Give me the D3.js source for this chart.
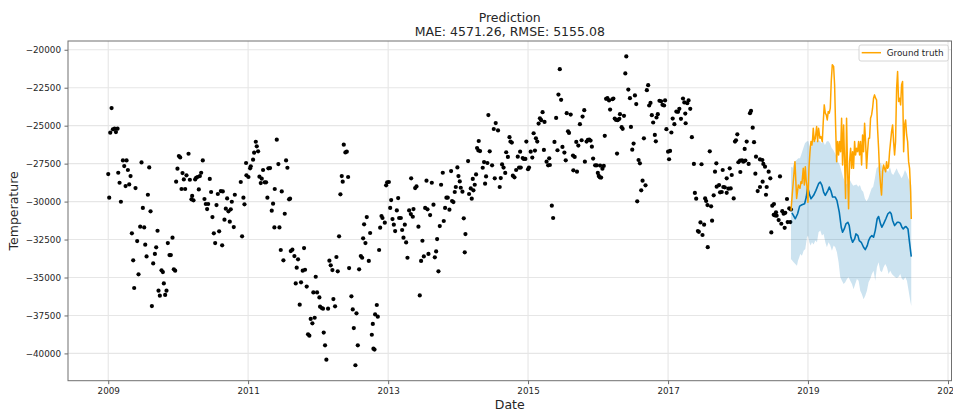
<!DOCTYPE html>
<html>
<head>
<meta charset="utf-8">
<script src="https://cdn.jsdelivr.net/npm/d3@7"></script>
<style>
  body { margin: 0; background: #fff; }
  text { font-family: "DejaVu Sans", sans-serif; }
</style>
</head>
<body>
<svg id="chart" width="953" height="417"></svg>
<script>
// Observed weekly readings: [decimal year, temperature]
const observed = [
[2009.048,-23840],[2009.029,-25460],[2009.067,-25240],[2009.090,-25200],[2009.110,-25420],[2009.133,-25200],[2009.000,-28190],[2009.014,-29740],[2009.210,-27290],[2009.262,-27290],[2009.229,-27660],[2009.143,-28100],[2009.281,-27920],[2009.319,-28320],[2009.162,-28760],[2009.248,-28980],[2009.300,-28870],[2009.390,-29110],[2009.181,-30010],[2009.476,-27420],[2009.586,-27750],[2009.567,-29550],[2009.495,-30420],[2009.605,-30640],[2009.457,-31650],[2009.514,-31700],[2009.338,-32090],[2009.705,-31920],[2009.414,-32600],[2009.529,-32840],[2009.686,-33010],[2009.852,-32730],[2009.919,-32380],[2009.548,-33610],[2009.667,-33450],[2009.876,-33520],[2009.895,-33520],[2009.357,-33870],[2009.643,-34070],[2009.762,-34530],[2009.781,-34640],[2009.938,-34460],[2009.957,-34550],[2009.433,-34790],[2009.795,-35390],[2009.371,-35690],[2009.719,-35870],[2009.833,-35870],[2009.738,-36200],[2009.814,-36150],[2009.624,-36880],
[2010.010,-27000],[2010.029,-27090],[2010.148,-26850],[2010.352,-27290],[2009.990,-27830],[2010.062,-28120],[2010.119,-28270],[2010.081,-28540],[2009.971,-28690],[2010.167,-28560],[2010.243,-28540],[2010.257,-28430],[2010.276,-28380],[2010.310,-28320],[2010.329,-28100],[2010.048,-29170],[2010.100,-29170],[2010.295,-29200],[2010.452,-28510],[2010.200,-29630],[2010.190,-29850],[2010.219,-29920],[2010.471,-29370],[2010.376,-29830],[2010.395,-30160],[2010.429,-30160],[2010.414,-30490],[2010.490,-31020],[2010.567,-29500],[2010.548,-30230],[2010.610,-29310],[2010.638,-29330],[2010.700,-29790],[2010.767,-30010],[2010.681,-30470],[2010.719,-30640],[2010.752,-30510],[2010.662,-31190],[2010.738,-31320],[2010.795,-31680],[2010.510,-32090],[2010.586,-31960],[2010.529,-32730],[2010.629,-32880],[2010.914,-32290],[2010.810,-29550],[2010.895,-28710],[2010.948,-30180],[2010.933,-29740],[2010.976,-28270],[2011.005,-28380],[2011.029,-27810],[2011.038,-27680],[2010.971,-27460],[2011.071,-27240],[2011.086,-26780],[2011.110,-26060],[2011.124,-26360],[2011.143,-26690],[2011.162,-28360],[2011.181,-28780],[2011.195,-28490],[2011.238,-28730],[2011.257,-28730],[2011.214,-27920],[2011.290,-27810],[2011.314,-27790],[2011.276,-29740],[2011.338,-30600],[2011.357,-30140],[2011.381,-29170],[2011.433,-27530],[2011.410,-25920],[2011.481,-29330],[2011.376,-31700],[2011.448,-31700],[2011.524,-30800],[2011.467,-33190],[2011.505,-33870],[2011.543,-27290],[2011.562,-27770],
[2011.586,-29850],[2011.600,-29810],[2011.610,-33260],[2011.633,-33170],[2011.662,-33590],[2011.714,-33800],[2011.800,-33060],[2011.695,-34350],[2011.781,-34550],[2011.814,-34490],[2011.681,-35390],[2011.757,-35320],[2011.838,-35600],[2011.967,-34950],[2011.933,-35980],[2011.986,-35980],[2012.019,-36310],[2011.738,-36790],[2012.029,-36920],[2012.052,-37010],[2012.071,-37050],[2012.143,-37050],[2012.219,-36420],[2012.243,-36900],[2011.895,-37730],[2011.919,-38020],[2011.952,-37650],[2011.857,-38740],[2011.876,-38830],[2012.081,-38630],[2012.100,-39470],[2012.119,-40410],[2012.162,-33890],[2012.181,-34200],[2012.205,-34510],[2012.262,-33650],[2012.281,-34590],[2012.300,-32290],[2012.319,-29520],[2012.338,-28320],[2012.352,-28690],[2012.429,-28380],[2012.367,-26250],[2012.390,-26760],[2012.410,-26710],[2012.443,-34380],[2012.476,-36240],[2012.495,-37100],[2012.548,-37360],[2012.510,-38330],[2012.533,-40780],[2012.567,-39470],[2012.586,-34460],[2012.610,-33590],[2012.629,-33700],[2012.643,-32420],[2012.657,-31500],[2012.676,-32730],[2012.695,-31020],[2012.724,-33910],[2012.743,-32070],[2012.767,-38770],[2012.790,-39690],[2012.805,-39750],[2012.781,-38060],[2012.814,-37430],[2012.838,-36810],[2012.852,-37580],[2012.871,-33190],[2012.886,-31720],[2012.905,-30950],[2012.919,-31080],[2012.952,-31390],[2012.971,-28930],[2012.986,-28730],[2013.010,-28710],[2013.043,-29900],[2013.029,-30420],[2013.062,-31150],[2013.081,-31520],[2013.100,-31940],[2013.124,-30580],[2013.143,-29770],[2013.157,-31080],[2013.181,-31080],[2013.200,-31870],[2013.219,-32380],[2013.238,-31520],[2013.257,-32690],[2013.276,-33700],[2013.300,-30580],[2013.324,-30820],[2013.352,-31000],[2013.329,-28470],[2013.362,-30490],[2013.386,-29110],[2013.405,-29000],[2013.433,-31650],[2013.452,-36180],[2013.471,-33910],[2013.490,-32580],[2013.510,-33610],[2013.576,-33450],[2013.529,-30420],[2013.562,-30510],[2013.548,-28620],[2013.600,-30890],[2013.624,-28760],[2013.648,-30200],[2013.667,-33670],[2013.686,-33280],[2013.700,-32470],[2013.719,-34590],[2013.738,-31610],[2013.757,-28890],[2013.781,-28100],[2013.795,-31280],[2013.814,-30420],[2013.833,-29740],[2013.852,-29740],[2013.876,-30530],[2013.900,-27990],[2013.914,-29960],[2013.933,-30030],[2013.952,-29370],[2013.967,-29040],[2013.990,-27750],[2014.005,-28320],[2014.024,-28670],[2014.038,-29090],[2014.062,-29350],[2014.081,-31100],[2014.105,-32140],[2014.095,-33340],[2014.143,-27330],[2014.157,-29500],[2014.181,-29130],[2014.210,-28510],[2014.195,-29810],[2014.219,-29260],[2014.238,-28890],[2014.257,-28210],[2014.271,-26470],[2014.295,-26010],[2014.290,-26630],[2014.314,-26670],[2014.352,-27770],[2014.371,-27400],[2014.386,-28820],[2014.400,-28340],[2014.419,-27460],[2014.433,-24300],[2014.452,-26690],[2014.486,-27610],[2014.510,-25220],[2014.538,-24830],[2014.571,-25310],[2014.524,-28470],[2014.595,-29040],[2014.610,-28450],[2014.629,-27550],
[2014.650,-27760],[2014.674,-28110],[2014.688,-26750],[2014.712,-27060],[2014.735,-25760],[2014.749,-26050],[2014.768,-26110],[2014.783,-28290],[2014.806,-28400],[2014.830,-27920],[2014.853,-27040],[2014.887,-26710],[2014.872,-27760],[2014.896,-27760],[2014.924,-27130],[2014.939,-27190],[2014.962,-27190],[2014.976,-26050],[2015.000,-27870],[2015.014,-27760],[2015.038,-26710],[2015.061,-27100],[2015.080,-25500],[2015.099,-26640],[2015.113,-25830],[2015.132,-26050],[2015.151,-24860],[2015.170,-24510],[2015.189,-24640],[2015.208,-24110],[2015.236,-24750],[2015.227,-26600],[2015.265,-27370],[2015.303,-27150],[2015.288,-27610],[2015.312,-27590],[2015.340,-30270],[2015.359,-31080],[2015.378,-26070],[2015.402,-24490],[2015.421,-26620],[2015.435,-22950],[2015.473,-23300],[2015.454,-21280],[2015.492,-26400],[2015.520,-26770],[2015.539,-27280],[2015.553,-24180],[2015.610,-24270],[2015.572,-25370],[2015.586,-25480],[2015.643,-26970],[2015.667,-27060],[2015.648,-27940],[2015.700,-28030],[2015.690,-26070],[2015.719,-26310],[2015.742,-24900],[2015.766,-25960],[2015.780,-24400],[2015.804,-23980],[2015.813,-27370],[2015.837,-26050],[2015.856,-25940],[2015.875,-25920],[2015.894,-25980],[2015.913,-26380],[2015.931,-27170],[2015.960,-27610],[2015.983,-27610],[2015.998,-28110],[2016.012,-28310],[2016.026,-28400],[2016.045,-28420],[2016.031,-27630],[2016.064,-27830],[2016.083,-27650],[2016.097,-25670],[2016.116,-23230],[2016.135,-23190],[2016.158,-23340],[2016.173,-23940],[2016.206,-23260],[2016.220,-23210],[2016.239,-24530],[2016.258,-24620],[2016.281,-24640],[2016.305,-24550],[2016.272,-26840],[2016.314,-24240],[2016.371,-24350],[2016.338,-25100],[2016.352,-25210],[2016.390,-21560],[2016.404,-20440],[2016.433,-22620],[2016.456,-23190],[2016.470,-25080],[2016.489,-26580],[2016.508,-26180],[2016.527,-23010],[2016.546,-23580],[2016.579,-27260],[2016.598,-27480],[2016.617,-29260],[2016.636,-28620],[2016.560,-29980],[2016.678,-28930],[2016.655,-25830],[2016.697,-22660],[2016.716,-22330],[2016.730,-23670],[2016.749,-23500],[2016.768,-24310],[2016.787,-24790],[2016.811,-25610],[2016.825,-26030],[2016.835,-24460],[2016.853,-24240],[2016.877,-23360],[2016.901,-23390],[2016.920,-23630],[2016.943,-23670],[2016.957,-23340],[2016.976,-25230],[2017.000,-26710],[2017.028,-26660],[2017.014,-27210],[2017.047,-25450],[2017.066,-24530],[2017.090,-24900],[2017.118,-24070],[2017.142,-24090],[2017.161,-23890],[2017.184,-24550],[2017.213,-23210],[2017.232,-23470],[2017.251,-24840],[2017.246,-24200],[2017.274,-23520],[2017.293,-23340],[2017.317,-23890],[2017.340,-25760],[2017.369,-27520],[2017.383,-29430],[2017.402,-29810],[2017.426,-31940],[2017.440,-31990],[2017.463,-31370],[2017.492,-32200],[2017.515,-31520],[2017.478,-27540],[2017.530,-29790],[2017.544,-29960],[2017.563,-30230],[2017.567,-33000],[2017.596,-26690],[2017.615,-30310],[2017.629,-31260],[2017.652,-29590],[2017.671,-28030],[2017.690,-27480],[2017.695,-29020],
[2017.729,-28910],[2017.743,-29390],[2017.767,-29370],[2017.790,-29040],[2017.781,-27920],[2017.810,-29060],[2017.838,-29420],[2017.838,-28470],[2017.862,-29150],[2017.895,-29130],[2017.881,-27810],[2017.910,-28250],[2017.938,-29790],[2017.957,-26050],[2017.971,-25960],[2017.990,-25570],[2018.005,-27410],[2018.029,-27300],[2018.057,-27280],[2018.076,-27370],[2018.105,-27300],[2018.033,-28050],[2018.095,-26530],[2018.124,-26050],[2018.152,-27520],[2018.171,-24180],[2018.186,-24030],[2018.210,-25130],[2018.229,-26090],[2018.257,-27040],[2018.314,-27220],[2018.348,-27260],[2018.362,-27520],[2018.281,-29310],[2018.248,-28160],[2018.314,-29040],[2018.352,-28690],[2018.386,-27700],[2018.410,-29040],[2018.400,-29550],[2018.438,-28030],[2018.462,-28470],[2018.476,-32030],[2018.490,-30270],[2018.510,-30870],[2018.529,-30910],[2018.543,-30710],[2018.552,-30930],[2018.514,-30160],[2018.581,-31220],[2018.600,-28340],[2018.619,-31460],[2018.633,-30630],[2018.652,-30800],[2018.676,-30740],[2018.667,-31730],[2018.700,-29830],[2018.710,-31350],[2018.748,-31350],[2018.733,-30450],[2018.757,-30520]
];

// Forecast mean (yhat)
const forecastMean = [
[2018.771,-30740],[2018.819,-31130],[2018.852,-30800],[2018.881,-30300],[2018.914,-30210],[2018.952,-30140],[2018.976,-29700],[2018.995,-29040],[2019.019,-29480],[2019.043,-29810],[2019.081,-29590],[2019.114,-29260],[2019.152,-28820],[2019.176,-28710],[2019.200,-28930],[2019.224,-29370],[2019.248,-29590],[2019.286,-29260],[2019.305,-29040],[2019.329,-29300],[2019.352,-29700],[2019.390,-29700],[2019.414,-29920],[2019.448,-30690],[2019.476,-31690],[2019.495,-32020],[2019.519,-31800],[2019.543,-31470],[2019.571,-31360],[2019.590,-31580],[2019.614,-32350],[2019.638,-32680],[2019.667,-32460],[2019.686,-32130],[2019.714,-32240],[2019.733,-32570],[2019.762,-32680],[2019.795,-33010],[2019.819,-33160],[2019.848,-32900],[2019.867,-32570],[2019.890,-32350],[2019.914,-32240],[2019.938,-32350],[2019.962,-31910],[2019.990,-31130],[2020.010,-30980],[2020.038,-31470],[2020.057,-31690],[2020.081,-31470],[2020.114,-31130],[2020.143,-30800],[2020.171,-30690],[2020.190,-30800],[2020.210,-31240],[2020.238,-31580],[2020.257,-31470],[2020.276,-31360],[2020.295,-31360],[2020.319,-31420],[2020.343,-31690],[2020.362,-31800],[2020.381,-31690],[2020.400,-31640],[2020.429,-31800],[2020.448,-32570],[2020.476,-33630]
];

// Forecast uncertainty interval, upper edge (yhat_upper)
const forecastUpper = [
[2018.757,-27700],[2018.781,-27770],[2018.805,-27370],[2018.838,-27260],[2018.862,-27150],[2018.886,-27150],[2018.910,-26820],[2018.933,-26490],[2018.957,-26160],[2018.981,-26050],[2019.005,-26010],[2019.019,-26270],[2019.038,-26490],[2019.057,-26310],[2019.076,-26050],[2019.100,-25940],[2019.124,-26050],[2019.148,-25940],[2019.171,-26010],[2019.195,-26160],[2019.219,-26050],[2019.243,-26270],[2019.267,-26050],[2019.290,-26010],[2019.314,-26160],[2019.338,-26450],[2019.362,-26600],[2019.386,-26820],[2019.410,-27040],[2019.433,-27410],[2019.457,-27630],[2019.481,-28030],[2019.505,-28430],[2019.529,-28690],[2019.552,-28870],[2019.576,-28690],[2019.600,-28580],[2019.624,-28800],[2019.648,-28950],[2019.671,-28910],[2019.695,-28870],[2019.719,-29020],[2019.743,-28910],[2019.767,-29240],[2019.790,-29350],[2019.814,-29790],[2019.838,-29970],[2019.862,-29790],[2019.886,-29460],[2019.910,-29130],[2019.933,-29020],[2019.957,-28470],[2019.981,-27810],[2020.005,-27700],[2020.029,-27410],[2020.052,-27590],[2020.076,-27810],[2020.100,-27700],[2020.124,-27920],[2020.148,-28030],[2020.171,-27700],[2020.195,-28140],[2020.219,-28250],[2020.243,-28030],[2020.267,-27810],[2020.290,-28070],[2020.314,-28250],[2020.338,-28470],[2020.362,-28250],[2020.386,-27920],[2020.410,-28140],[2020.433,-28470],[2020.457,-28690],[2020.476,-28910]
];

// Forecast uncertainty interval, lower edge (yhat_lower)
const forecastLower = [
[2018.757,-33780],[2018.795,-34000],[2018.819,-34110],[2018.843,-34220],[2018.857,-33890],[2018.876,-33670],[2018.890,-33450],[2018.914,-33560],[2018.938,-33230],[2018.962,-33120],[2018.986,-32350],[2019.000,-32240],[2019.019,-32680],[2019.038,-32900],[2019.057,-32680],[2019.081,-32830],[2019.105,-32570],[2019.129,-32680],[2019.152,-32020],[2019.176,-31910],[2019.200,-32240],[2019.224,-32130],[2019.248,-32680],[2019.271,-33010],[2019.295,-32680],[2019.319,-32900],[2019.343,-33230],[2019.367,-32900],[2019.390,-33010],[2019.414,-33340],[2019.438,-34000],[2019.462,-34990],[2019.486,-35210],[2019.510,-35430],[2019.533,-35320],[2019.557,-35100],[2019.581,-34990],[2019.605,-35210],[2019.629,-35430],[2019.652,-35770],[2019.676,-35430],[2019.700,-35100],[2019.724,-35210],[2019.748,-35880],[2019.771,-36100],[2019.795,-36430],[2019.819,-36210],[2019.843,-35880],[2019.867,-35320],[2019.890,-35100],[2019.914,-34770],[2019.938,-34550],[2019.962,-35210],[2019.986,-34330],[2020.010,-34000],[2020.033,-34550],[2020.057,-34660],[2020.081,-34330],[2020.105,-34110],[2020.129,-34330],[2020.152,-34770],[2020.176,-34550],[2020.200,-34770],[2020.224,-34880],[2020.248,-34990],[2020.271,-35040],[2020.295,-34950],[2020.319,-34770],[2020.343,-35100],[2020.367,-35170],[2020.390,-34990],[2020.414,-35210],[2020.438,-35880],[2020.462,-36540],[2020.476,-36870]
];

// Measured values over the forecast horizon
const groundTruth = [
[2018.757,-30600],[2018.771,-29790],[2018.790,-28690],[2018.814,-27370],[2018.838,-29790],[2018.862,-28910],[2018.886,-29130],[2018.900,-28690],[2018.914,-28800],[2018.933,-27810],[2018.948,-28910],[2018.962,-27700],[2018.976,-28690],[2018.990,-29130],[2019.000,-30050],[2019.014,-27810],[2019.029,-26710],[2019.043,-26050],[2019.057,-26270],[2019.067,-25830],[2019.076,-25170],[2019.090,-26050],[2019.105,-25830],[2019.124,-25060],[2019.138,-26050],[2019.152,-25170],[2019.171,-25830],[2019.186,-25720],[2019.205,-26050],[2019.219,-24730],[2019.233,-23630],[2019.248,-24180],[2019.262,-24290],[2019.276,-24620],[2019.290,-24070],[2019.305,-24180],[2019.319,-23850],[2019.333,-22090],[2019.348,-20990],[2019.367,-21100],[2019.381,-22310],[2019.395,-24950],[2019.410,-27370],[2019.424,-26050],[2019.438,-26930],[2019.452,-26050],[2019.467,-26710],[2019.481,-24510],[2019.495,-27590],[2019.510,-24950],[2019.524,-27370],[2019.538,-29790],[2019.552,-24510],[2019.567,-28030],[2019.581,-30470],[2019.595,-27370],[2019.610,-26490],[2019.624,-27810],[2019.638,-26710],[2019.652,-27810],[2019.667,-26050],[2019.681,-26930],[2019.695,-26490],[2019.710,-26710],[2019.724,-26050],[2019.738,-26930],[2019.752,-26050],[2019.767,-27590],[2019.781,-25610],[2019.795,-26710],[2019.810,-24840],[2019.824,-26050],[2019.838,-27810],[2019.852,-26710],[2019.867,-25830],[2019.881,-25830],[2019.895,-24510],[2019.910,-24290],[2019.924,-23850],[2019.938,-23190],[2019.952,-22970],[2019.967,-23190],[2019.981,-23300],[2019.995,-25170],[2020.010,-26490],[2020.024,-28030],[2020.038,-28910],[2020.052,-29570],[2020.067,-28030],[2020.081,-27590],[2020.095,-27810],[2020.110,-28030],[2020.124,-27370],[2020.138,-27810],[2020.152,-27700],[2020.167,-26710],[2020.181,-26050],[2020.195,-25390],[2020.210,-24950],[2020.224,-26050],[2020.238,-26930],[2020.252,-26050],[2020.267,-22530],[2020.281,-21430],[2020.295,-23410],[2020.310,-23190],[2020.324,-23630],[2020.338,-22310],[2020.352,-22090],[2020.367,-26710],[2020.381,-24950],[2020.395,-24620],[2020.410,-25610],[2020.424,-26050],[2020.438,-27370],[2020.452,-27810],[2020.467,-29350],[2020.476,-31150]
];

const yearTicks = [2009, 2011, 2013, 2015, 2017, 2019, 2021];
const valueTicks = [-40000, -37500, -35000, -32500, -30000, -27500, -25000, -22500, -20000];
const titleLines = ["Prediction", "MAE: 4571.26, RMSE: 5155.08"];

// decimal year -> UTC Date
function toDate(y) {
  const yr = Math.floor(y);
  const a = Date.UTC(yr, 0, 1), b = Date.UTC(yr + 1, 0, 1);
  return new Date(a + (y - yr) * (b - a));
}

const W = 953, H = 417;
const margin = { top: 41, right: 1.5, bottom: 36.3, left: 68 };
const svg = d3.select("#chart");

// Axis limits with a 5% margin on each side of the data
const all = observed.concat(forecastMean, forecastUpper, forecastLower, groundTruth);
const [xMin, xMax] = d3.extent(all, d => d[0]);
const [yMin, yMax] = d3.extent(all, d => d[1]);
const xPad = (xMax - xMin) * 0.05, yPad = (yMax - yMin) * 0.05;

const x = d3.scaleUtc()
  .domain([toDate(xMin - xPad), toDate(xMax + xPad)])
  .range([margin.left, W - margin.right]);
const y = d3.scaleLinear()
  .domain([yMin - yPad, yMax + yPad])
  .range([H - margin.bottom, margin.top]);

const px = d => x(toDate(d[0]));
const py = d => y(d[1]);

svg.append("rect").attr("width", W).attr("height", H).attr("fill", "#fff");

svg.append("defs").append("clipPath").attr("id", "plot-clip")
  .append("rect")
  .attr("x", margin.left).attr("y", margin.top)
  .attr("width", W - margin.left - margin.right)
  .attr("height", H - margin.top - margin.bottom);

// Grid
const grid = svg.append("g").attr("clip-path", "url(#plot-clip)")
  .attr("stroke", "#e6e6e6").attr("stroke-width", 1.1);
grid.selectAll("line.gx").data(yearTicks).join("line")
  .attr("x1", d => x(toDate(d))).attr("x2", d => x(toDate(d)))
  .attr("y1", margin.top).attr("y2", H - margin.bottom);
grid.selectAll("line.gy").data(valueTicks).join("line")
  .attr("x1", margin.left).attr("x2", W - margin.right)
  .attr("y1", d => y(d)).attr("y2", d => y(d));

const plot = svg.append("g").attr("clip-path", "url(#plot-clip)");

// Observed points
plot.append("g").selectAll("circle").data(observed).join("circle")
  .attr("cx", px).attr("cy", py).attr("r", 2.1).attr("fill", "#000");

// Uncertainty band as a closed polygon: upper edge forward, lower edge back
const edge = d3.line().x(px).y(py);
plot.append("path")
  .attr("d", edge(forecastUpper.concat(forecastLower.slice().reverse())) + "Z")
  .attr("fill", "#0072B2").attr("fill-opacity", 0.2).attr("stroke", "none");

plot.append("path").datum(forecastMean)
  .attr("d", edge).attr("fill", "none")
  .attr("stroke", "#0072B2").attr("stroke-width", 1.6).attr("stroke-linejoin", "round");

plot.append("path").datum(groundTruth)
  .attr("d", edge).attr("fill", "none")
  .attr("stroke", "orange").attr("stroke-width", 1.5).attr("stroke-linejoin", "round");

// Axes
const xAxis = svg.append("g")
  .attr("transform", `translate(0,${H - margin.bottom})`)
  .call(d3.axisBottom(x)
    .tickValues(yearTicks.map(toDate))
    .tickFormat(d3.utcFormat("%Y"))
    .tickSize(3.5).tickPadding(3.3));
const yAxis = svg.append("g")
  .attr("transform", `translate(${margin.left},0)`)
  .call(d3.axisLeft(y)
    .tickValues(valueTicks)
    .tickFormat(d3.format("d"))
    .tickSize(3.5).tickPadding(3.5));
[xAxis, yAxis].forEach(a => {
  a.select(".domain").remove();
  a.selectAll(".tick line").attr("stroke", "#444").attr("stroke-width", 0.8);
  a.selectAll(".tick text").attr("fill", "#262626")
    .style("font-size", "8.8px").style("font-family", "'DejaVu Sans', sans-serif");
});

// Frame
svg.append("rect")
  .attr("x", margin.left).attr("y", margin.top)
  .attr("width", W - margin.left - margin.right)
  .attr("height", H - margin.top - margin.bottom)
  .attr("fill", "none").attr("stroke", "#707070").attr("stroke-width", 1);

// Titles and axis labels
const cx = (margin.left + W - margin.right) / 2;
svg.append("g").selectAll("text").data(titleLines).join("text")
  .attr("x", cx).attr("y", (d, i) => 21.5 + i * 14)
  .attr("text-anchor", "middle").attr("fill", "#262626")
  .style("font-size", "12.5px").text(d => d);

svg.append("text")
  .attr("x", cx).attr("y", 409)
  .attr("text-anchor", "middle").attr("fill", "#262626")
  .style("font-size", "12.5px").text("Date");

svg.append("text")
  .attr("transform", `translate(18.3,${(margin.top + H - margin.bottom) / 2}) rotate(-90)`)
  .attr("text-anchor", "middle").attr("fill", "#262626")
  .style("font-size", "12.5px").text("Temperature");

// Legend
const lg = svg.append("g").attr("transform", `translate(${W - margin.right - 92.5},${margin.top + 4})`);
lg.append("rect").attr("width", 89.3).attr("height", 16).attr("rx", 2)
  .attr("fill", "#fff").attr("fill-opacity", 0.8)
  .attr("stroke", "#cccccc").attr("stroke-width", 0.8);
lg.append("line").attr("x1", 2.7).attr("x2", 22).attr("y1", 7.7).attr("y2", 7.7)
  .attr("stroke", "orange").attr("stroke-width", 1.5);
lg.append("text").attr("x", 27.7).attr("y", 11.3).attr("fill", "#262626")
  .style("font-size", "8.8px").text("Ground truth");
</script>
</body>
</html>
